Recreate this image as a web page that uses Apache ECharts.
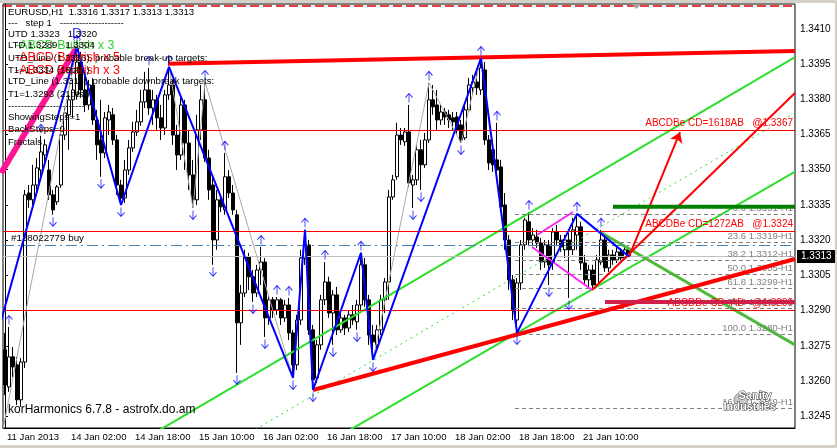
<!DOCTYPE html>
<html><head><meta charset="utf-8">
<script src="https://cdn.jsdelivr.net/npm/echarts@6.0.0/dist/echarts.min.js"></script>
<style>html,body{margin:0;padding:0;background:#fff;overflow:hidden}#c{width:837px;height:448px}</style>
</head><body><div id="c"></div>
<script>
// ---------- DATA ----------
const tickLabels = ['11 Jan 2013','14 Jan 02:00','14 Jan 18:00','15 Jan 10:00','16 Jan 02:00','16 Jan 18:00','17 Jan 10:00','18 Jan 02:00','18 Jan 18:00','21 Jan 10:00'];
const barsPerTick = 16;
const slotCount = 198; // hourly slots incl. chart shift
const yTicks = [1.3245,1.3260,1.3275,1.3290,1.3305,1.3320,1.3335,1.3350,1.3365,1.3380,1.3395,1.3410];

const opens = [
1.32733,1.32575,1.32703,1.32669,1.32520,1.32681,1.33401,1.33372,1.33435,1.33499,
1.33563,1.33499,1.33393,1.33363,1.33435,1.33648,1.33734,1.33798,1.33819,1.33959,
1.33840,1.33776,1.33861,1.33712,1.33627,1.33572,1.33712,1.33734,1.33627,1.33435,
1.33380,1.33499,1.33593,1.33661,1.33704,1.33789,1.33840,1.33763,1.33798,1.33721,
1.33678,1.33819,1.33861,1.33648,1.33563,1.33776,1.33614,1.33478,1.33372,1.33670,
1.33798,1.33550,1.33435,1.33201,1.33372,1.33329,1.33470,1.33401,1.33308,1.32848,
1.32975,1.33129,1.33044,1.32975,1.33073,1.33107,1.32869,1.32946,1.32903,1.32946,
1.32869,1.32924,1.32805,1.32669,1.32860,1.33124,1.33180,1.32818,1.32613,1.32754,
1.32946,1.33022,1.32890,1.32967,1.32818,1.32869,1.32826,1.32882,1.32852,1.32924,
1.33095,1.32946,1.32796,1.32754,1.32818,1.32946,1.33022,1.33384,1.33470,1.33648,
1.33619,1.33661,1.33435,1.33457,1.33585,1.33521,1.33627,1.33798,1.33776,1.33712,
1.33746,1.33734,1.33721,1.33725,1.33691,1.33636,1.33755,1.33849,1.33874,1.33840,
1.33925,1.33627,1.33585,1.33542,1.33512,1.33350,1.33201,1.33031,1.32860,1.33018,
1.33180,1.33278,1.33201,1.33214,1.33188,1.33107,1.33180,1.33107,1.33235,1.33201,
1.33159,1.33201,1.33159,1.33222,1.33257,1.33103,1.33031,1.33073,1.33009,1.33107,
1.33201,1.33082,1.33137,1.33116,1.33150,1.33124,1.33160];
const highs = [
1.32805,1.32830,1.32745,1.32703,1.32698,1.33414,1.33435,1.33521,1.33550,1.33645,
1.33630,1.33542,1.33414,1.33435,1.33678,1.33763,1.33819,1.33883,1.34023,1.34002,
1.33904,1.33883,1.33891,1.33755,1.33798,1.33746,1.33776,1.33763,1.33648,1.33457,
1.33542,1.33627,1.33704,1.33755,1.33840,1.33917,1.33934,1.33840,1.33819,1.33776,
1.33840,1.33938,1.33883,1.33691,1.33806,1.33798,1.33670,1.33542,1.33734,1.33861,
1.33874,1.33585,1.33470,1.33414,1.33393,1.33572,1.33499,1.33435,1.33329,1.33009,
1.33159,1.33146,1.33073,1.33095,1.33171,1.33124,1.32967,1.32958,1.32958,1.32954,
1.32946,1.32954,1.32818,1.32882,1.33159,1.33244,1.33201,1.32839,1.32775,1.32967,
1.33107,1.33044,1.32988,1.33001,1.32894,1.32882,1.32903,1.32924,1.32946,1.33146,
1.33124,1.32967,1.32839,1.32839,1.32967,1.33039,1.33414,1.33478,1.33700,1.33678,
1.33678,1.33776,1.33478,1.33606,1.33627,1.33657,1.33870,1.33861,1.33840,1.33776,
1.33763,1.33755,1.33746,1.33746,1.33712,1.33776,1.33891,1.33904,1.33925,1.33976,
1.33959,1.33648,1.33627,1.33700,1.33542,1.33401,1.33222,1.33052,1.33039,1.33201,
1.33295,1.33320,1.33252,1.33244,1.33210,1.33201,1.33201,1.33252,1.33265,1.33222,
1.33222,1.33231,1.33295,1.33312,1.33278,1.33137,1.33095,1.33095,1.33137,1.33244,
1.33214,1.33159,1.33159,1.33171,1.33167,1.33180,1.33170];
const lows = [
1.32540,1.32554,1.32617,1.32498,1.32490,1.32656,1.33337,1.33350,1.33406,1.33465,
1.33521,1.33372,1.33308,1.33350,1.33423,1.33627,1.33585,1.33721,1.33798,1.33806,
1.33746,1.33755,1.33691,1.33542,1.33470,1.33550,1.33648,1.33606,1.33393,1.33350,
1.33359,1.33478,1.33576,1.33644,1.33687,1.33763,1.33734,1.33691,1.33670,1.33627,
1.33648,1.33798,1.33606,1.33499,1.33542,1.33499,1.33414,1.33337,1.33350,1.33627,
1.33533,1.33372,1.33095,1.33159,1.33320,1.33308,1.33380,1.33308,1.32635,1.32754,
1.32958,1.32988,1.32937,1.32958,1.33009,1.32788,1.32839,1.32869,1.32882,1.32839,
1.32852,1.32775,1.32613,1.32647,1.32839,1.33095,1.32796,1.32562,1.32592,1.32733,
1.32924,1.32869,1.32754,1.32796,1.32805,1.32796,1.32809,1.32839,1.32818,1.32903,
1.32916,1.32754,1.32690,1.32733,1.32796,1.32890,1.32946,1.33372,1.33457,1.33606,
1.33602,1.33427,1.33337,1.33435,1.33414,1.33508,1.33614,1.33734,1.33670,1.33691,
1.33691,1.33678,1.33670,1.33648,1.33614,1.33627,1.33746,1.33819,1.33819,1.33819,
1.33606,1.33499,1.33491,1.33478,1.33320,1.33159,1.32988,1.32860,1.32805,1.32988,
1.33159,1.33180,1.33180,1.33167,1.33073,1.33082,1.33009,1.33073,1.33180,1.33150,
1.33124,1.32954,1.33137,1.33159,1.33073,1.33009,1.33001,1.32988,1.32997,1.33095,
1.33065,1.33065,1.33095,1.33103,1.33107,1.33116,1.33130];
const closes = [
1.32583,1.32703,1.32660,1.32520,1.32681,1.33393,1.33372,1.33435,1.33508,1.33576,
1.33606,1.33393,1.33329,1.33427,1.33648,1.33742,1.33798,1.33840,1.33959,1.33840,
1.33776,1.33861,1.33712,1.33606,1.33572,1.33721,1.33746,1.33627,1.33435,1.33380,
1.33499,1.33593,1.33661,1.33704,1.33789,1.33840,1.33763,1.33798,1.33721,1.33678,
1.33819,1.33861,1.33648,1.33563,1.33776,1.33614,1.33478,1.33372,1.33670,1.33798,
1.33550,1.33414,1.33201,1.33372,1.33342,1.33470,1.33401,1.33329,1.32848,1.32975,
1.33129,1.33044,1.32975,1.33073,1.33107,1.32869,1.32946,1.32903,1.32946,1.32869,
1.32924,1.32805,1.32669,1.32860,1.33124,1.33180,1.32818,1.32605,1.32754,1.32946,
1.33022,1.32890,1.32967,1.32818,1.32869,1.32826,1.32882,1.32860,1.32924,1.33095,
1.32946,1.32796,1.32767,1.32818,1.32946,1.33022,1.33384,1.33457,1.33648,1.33627,
1.33661,1.33444,1.33457,1.33585,1.33521,1.33627,1.33798,1.33768,1.33712,1.33746,
1.33725,1.33712,1.33704,1.33670,1.33627,1.33755,1.33861,1.33874,1.33849,1.33934,
1.33627,1.33529,1.33521,1.33499,1.33342,1.33201,1.33031,1.32903,1.33018,1.33180,
1.33286,1.33201,1.33222,1.33188,1.33107,1.33180,1.33095,1.33235,1.33201,1.33171,
1.33201,1.33159,1.33244,1.33257,1.33103,1.33031,1.33073,1.33009,1.33116,1.33201,
1.33082,1.33137,1.33116,1.33150,1.33124,1.33159,1.33130];

// zigzags (bar index, price)
const zzIdx   = [-5,18,29,41,72,75,77,89,92,119,128,143,156];
const zzPrice = [1.32609,1.34023,1.33350,1.33938,1.32613,1.33244,1.32562,1.33146,1.32690,1.33976,1.32805,1.33312,1.33130];
const zz2Idx   = [-1,18,29,41,47,50,72,75,77,89,92,106,114,119,128,143];
const zz2Price = [1.32350,1.34023,1.33350,1.33938,1.33337,1.33874,1.32613,1.33244,1.32562,1.33146,1.32690,1.33870,1.33614,1.33976,1.32805,1.33312];

// fractals (bar indices)
const fracUp = [1,9,18,36,41,50,55,64,68,71,75,80,89,101,106,119,123,131,143,149];
const fracDn = [12,24,29,47,52,58,62,65,72,77,82,88,92,102,104,114,128,136,141];

// trend / channel lines (bar index, price)
const redResist   = [[40.75,1.33951],[197.5,1.34006]];
const redSupport  = [[77,1.32562],[197.5,1.33120]];
const redSteep    = [[146.75,1.32988],[197.5,1.33827]];
const redArrow    = [[156,1.33130],[168.75,1.33660]];
const chanUpper   = [[38,1.32385],[197.5,1.33980]];
const chanMid     = [[60,1.32368],[197.5,1.33743]];
const chanLower   = [[82,1.32350],[197.5,1.33492]];
const greenDown   = [[148.75,1.33235],[197.5,1.32754]];
const magUpper    = [[133,1.33222],[142,1.33320]];
const magLower    = [[131.75,1.33171],[146.75,1.32988]];
const pinkLine    = [[-1,1.33486],[18,1.34023]];
const greenBar    = [[152,1.33342],[197.5,1.33342]];
const crimsonBar  = [[150,1.32937],[197.5,1.32937]];

// horizontal levels
const abcdLevels = [1.3367,1.3324,1.3290];
const abcdNames  = ['ABCDBe CD=1618AB   @1.3367','ABCDBe CD=1272AB   @1.3324','ABCDBe CD=AB   @1.3290'];
const orderPrice = 1.33178, orderName = '#138022779 buy';
const bidPrice = 1.3313;
const topLevel = 1.3420;
const fibLevels = ['0.0','23.6','38.2','50.0','61.8','78.6','100.0','161.8'];
const fibPrices = [1.3331,1.3319,1.33115,1.33055,1.32995,1.3291,1.3280,1.32485];
const fibStart = 127.5;

const infoLines = ['EURUSD,H1  1.3316 1.3317 1.3313 1.3313','---   step 1   --------------------','UTD 1.3323   1.3320','LTD 1.3289   1.3304',
'UTD_Line (1.3316), probable break-up targets:','T1=1.3334 (18pts.)','LTD_Line (1.3314), probable downbreak targets:','T1=1.3293 (21pts.)',
'------------------------','ShowingSteps=1','BackSteps=0','Fractals'];

// ---------- CHART ----------
const FONT = 'Liberation Sans';
const chart = echarts.init(document.getElementById('c'), null, {renderer:'canvas'});
const cats = Array.from({length: slotCount}, (_, i) => String(i));
const candleData = opens.map((o, i) => [o, closes[i], lows[i], highs[i]]);
const XMAX = slotCount - 0.5;

function seg(pts, color, width, type, z) {
  return {type:'line', xAxisIndex:1, yAxisIndex:0, data:pts, symbol:'none', silent:true, animation:false,
    lineStyle:{color, width, type:type||'solid', cap:'butt'}, z:z||4};
}
const tickOK = (i) => i % barsPerTick === 0 && i / barsPerTick < tickLabels.length;

const infoY = [12.7,23.5,34.5,46,58.5,70.5,82,94.5,106.5,118,130,142.5];
const graphics = [
  {type:'rect', shape:{x:0,y:0,width:837,height:3}, style:{fill:'#D4D0C8'}, z:100},
  {type:'rect', shape:{x:0,y:445,width:837,height:3}, style:{fill:'#D4D0C8'}, z:100},
  {type:'rect', shape:{x:835,y:0,width:2,height:448}, style:{fill:'#D4D0C8'}, z:100},
  {type:'polygon', shape:{points:[[632,4],[641,4],[636.5,9]]}, style:{fill:'#A0A0A0'}, z:100},
  {type:'text', left:8, top:404, style:{text:'korHarmonics 6.7.8 - astrofx.do.am', fill:'#000', font:'12px '+FONT}, z:100},
  {type:'text', left:15, top:39, style:{text:'-ABCD Bullish x 3', fill:'#33CC33', font:'12.5px '+FONT}, z:99},
  {type:'text', left:15, top:51, style:{text:'-ABCD Bearish x 5', fill:'#FF0000', font:'12.5px '+FONT}, z:99},
  {type:'text', left:15, top:64, style:{text:'-ABCD Bearish x 3', fill:'#FF0000', font:'12.5px '+FONT}, z:99},
  {type:'circle', shape:{cx:741, cy:400, r:7}, style:{fill:'#C8C8C8', stroke:'#909090'}, z:100},
  {type:'text', left:738, top:390, style:{text:'Sanity', fill:'#fff', stroke:'#333', lineWidth:1, font:'bold 11px '+FONT}, z:101},
  {type:'text', left:723, top:401, style:{text:'Industries', fill:'#fff', stroke:'#333', lineWidth:1, font:'bold 11px '+FONT}, z:101}
];
infoLines.forEach((t, k) => graphics.push({type:'text', left:8, top:infoY[k]-5.5, style:{text:t, fill:'#000', font:'9.6px '+FONT}, z:100}));

const hLine = (y, color, type, width, name, label) => ({yAxis:y, name, lineStyle:{color, type, width}, label});

const option = {
  animation:false,
  backgroundColor:'#fff',
  textStyle:{fontFamily:FONT},
  grid:{left:3, right:42, top:4, bottom:20, show:true, borderColor:'#000', borderWidth:1, backgroundColor:'#fff'},
  xAxis:[
    {type:'category', data:cats, boundaryGap:true,
     axisLine:{lineStyle:{color:'#000'}},
     axisTick:{alignWithLabel:true, interval:(i)=>tickOK(i), length:4, lineStyle:{color:'#000'}},
     axisLabel:{interval:(i)=>tickOK(i), formatter:(v,i)=>tickLabels[i/barsPerTick]||'', align:'left', color:'#000', fontFamily:FONT, fontSize:9.6, margin:4, padding:[0,0,0,2]},
     splitLine:{show:false}},
    {type:'value', min:-0.5, max:XMAX, show:false}
  ],
  yAxis:[{type:'value', position:'right', min:1.32400, max:1.34206, scale:true,
    axisLine:{show:true, lineStyle:{color:'#000'}},
    axisTick:{show:true, length:3, customValues:yTicks, lineStyle:{color:'#000'}},
    axisLabel:{customValues:yTicks, formatter:(v)=>v.toFixed(4), color:'#000', fontFamily:FONT, fontSize:10, margin:5},
    splitLine:{show:false}}],
  graphic: graphics,
  series:[
    {type:'candlestick', xAxisIndex:0, yAxisIndex:0, data:candleData, barWidth:3, z:2, silent:true,
     itemStyle:{color:'#fff', color0:'#000', borderColor:'#000', borderColor0:'#000', borderWidth:1},
     markLine:{silent:true, symbol:['none','none'], animation:false, precision:5,
       data:[
         hLine(topLevel,'#E00000',[9,4],1.5,'',{show:false}),
         hLine(orderPrice,'#4682B4',[11,4,2,4],1,orderName,{show:true, position:'insideStartTop', formatter:'{b}', color:'#000', fontFamily:FONT, fontSize:9.8, distance:[8,2]}),
         hLine(bidPrice,'#C0C0C0','solid',1,'',{show:true, position:'end', formatter:bidPrice.toFixed(4), color:'#fff', backgroundColor:'#000', padding:[2,4,1,4], fontFamily:FONT, fontSize:10, distance:2}),
         ...abcdLevels.map((p,k)=>hLine(p,'#FF0000','solid',1,abcdNames[k],{show:true, position:'insideEndTop', formatter:'{b}', color:'#FF0000', fontFamily:FONT, fontSize:10, distance:[2,2]}))
       ]}},
    // fib levels
    {type:'line', xAxisIndex:1, yAxisIndex:0, data:[], z:3, silent:true,
     markLine:{silent:true, symbol:['none','none'], animation:false,
       lineStyle:{color:'#808080', type:[4,3], width:1},
       label:{show:true, position:'insideEndTop', color:'#808080', fontFamily:FONT, fontSize:9.5, distance:[2,1],
         formatter:(p)=>fibLevels[p.dataIndex]+' '+fibPrices[p.dataIndex].toFixed(4)+'-H1'},
       data: fibPrices.map(p=>[{coord:[fibStart,p]},{coord:[XMAX,p]}])}},
    seg(zz2Idx.map((x,k)=>[x,zz2Price[k]]),'#A8A8A8',1,'solid',3),
    seg(chanMid,'#2BE02B',1,[2,4],4),
    seg(chanUpper,'#2BE02B',2,'solid',4),
    seg(chanLower,'#2BE02B',2,'solid',4),
    seg(greenDown,'#4DBB3A',3,'solid',4),
    seg(redSupport,'#FF0000',4,'solid',5),
    seg(redResist,'#FF0000',4,'solid',5),
    seg(redSteep,'#FF0000',2,'solid',5),
    seg(magUpper,'#FF22FF',2,'solid',5),
    seg(magLower,'#FF22FF',2,'solid',5),
    seg(pinkLine,'#FF1493',6,'solid',5),
    seg(greenBar,'#008000',4,'solid',6),
    seg(crimsonBar,'#D0204A',4,'solid',6),
    {type:'line', xAxisIndex:1, yAxisIndex:0, data:[], z:6, silent:true,
     markLine:{silent:true, animation:false, symbol:['none','arrow'], symbolSize:10,
       lineStyle:{color:'#FF0000', width:2, type:'solid'}, label:{show:false},
       data:[[{coord:redArrow[0]},{coord:redArrow[1]}]]}},
    Object.assign(seg(zzIdx.map((x,k)=>[x,zzPrice[k]]),'#0000FF',2,'solid',7), {markPoint:{silent:true, symbol:'circle', symbolSize:0,
       label:{show:true, formatter:'D', position:'top', distance:6, color:'#3030FF', fontFamily:FONT, fontSize:14}, data:[{coord:[zzIdx[1], zzPrice[1]]}]}}),
    {type:'scatter', xAxisIndex:1, yAxisIndex:0, z:8, silent:true, data:fracUp.map(i=>[i, highs[i]]),
     symbol:'path://M0,5L4,0L8,5M4,0L4,11', symbolSize:[7,9], symbolOffset:[0,-7],
     itemStyle:{color:'none', borderColor:'#0000FF', borderWidth:1}},
    {type:'scatter', xAxisIndex:1, yAxisIndex:0, z:8, silent:true, data:fracDn.map(i=>[i, lows[i]]),
     symbol:'path://M0,6L4,11L8,6M4,11L4,0', symbolSize:[7,9], symbolOffset:[0,7],
     itemStyle:{color:'none', borderColor:'#0000FF', borderWidth:1}}
  ]
};
chart.setOption(option);
</script></body></html>
